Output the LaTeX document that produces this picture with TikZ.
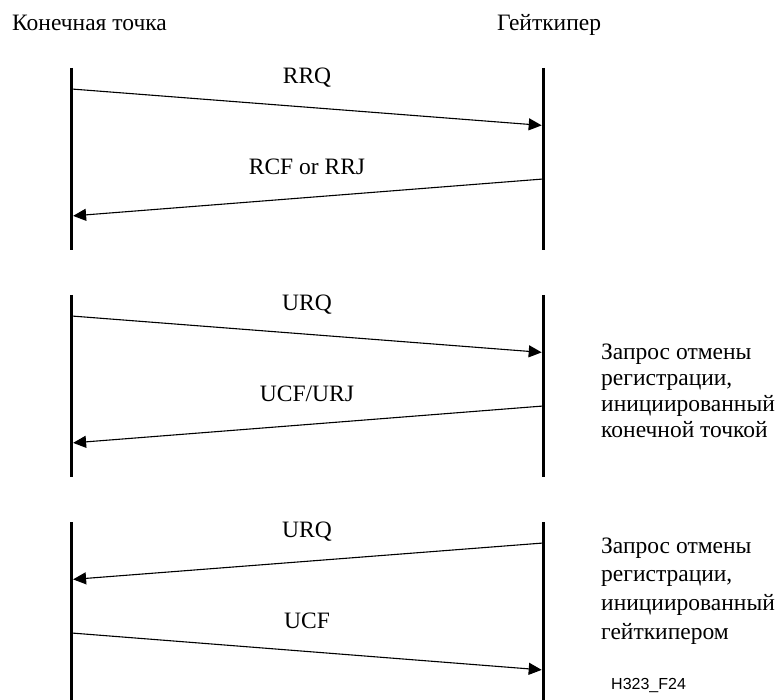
\documentclass[tikz,border=0pt]{standalone}
\usepackage{fontspec}
\setmainfont{Liberation Serif}
\newfontfamily\figsans{Liberation Sans}
\usetikzlibrary{arrows.meta}
\begin{document}
\begin{tikzpicture}[x=1pt,y=-1pt,
  lifeline/.style={line width=3.3pt},
  msg/.style={line width=1.1pt,-{Triangle[length=13pt,width=12pt]},shorten >=1.6pt},
  txt/.style={inner sep=0pt,font=\fontsize{23.5}{26}\selectfont},
  msglabel/.style={txt,anchor=base},
  note/.style={txt,anchor=base west},
  figid/.style={inner sep=0pt,anchor=base west,font=\figsans\fontsize{16}{18}\selectfont}]
\useasboundingbox (0,0) rectangle (779,700);

% column headings
\node[note] (hEP) at (12,31) {Конечная точка};
\node[note] (hGK) at (497,31) {Гейткипер};

% three exchanges, each with its own pair of lifelines
\foreach \t/\n/\e in {68/1/250, 295/2/477, 522/3/700}{
  \coordinate (E\n top) at (71.5,\t);
  \coordinate (E\n bot) at (71.5,\e);
  \coordinate (G\n top) at (543.3,\t);
  \coordinate (G\n bot) at (543.3,\e);
  \coordinate (E\n a) at (71.5,\t+21);
  \coordinate (G\n a) at (543.3,\t+57.5);
  \coordinate (G\n b) at (543.3,\t+111);
  \coordinate (E\n b) at (71.5,\t+148);
  \coordinate (G\n c) at (543.3,\t+21);
  \coordinate (E\n c) at (71.5,\t+57.5);
  \coordinate (E\n d) at (71.5,\t+111);
  \coordinate (G\n d) at (543.3,\t+148);
  \node[msglabel] (lab\n a) at (307,\t+15.7) {};
  \node[msglabel] (lab\n b) at (307,\t+106.7) {};
  \draw[lifeline] (E\n top) -- (E\n bot);
  \draw[lifeline] (G\n top) -- (G\n bot);
}

% registration
\draw[msg] (E1a) -- (G1a);
\draw[msg] (G1b) -- (E1b);
\node[msglabel] (m1) at (lab1a) {RRQ};
\node[msglabel] (m2) at (lab1b) {RCF or RRJ};

% unregistration requested by the endpoint
\draw[msg] (E2a) -- (G2a);
\draw[msg] (G2b) -- (E2b);
\node[msglabel] (m3) at (lab2a) {URQ};
\node[msglabel] (m4) at (lab2b) {UCF/URJ};

% unregistration requested by the gatekeeper
\draw[msg] (G3c) -- (E3c);
\draw[msg] (E3d) -- (G3d);
\node[msglabel] (m5) at (lab3a) {URQ};
\node[msglabel] (m6) at (lab3b) {UCF};

% side notes
\foreach \s [count=\i from 0] in {Запрос отмены, {регистрации,}, инициированный, конечной точкой}
  \node[note] (noteA\i) at (601,360+\i*25.7) {\s};
\foreach \s [count=\i from 0] in {Запрос отмены, {регистрации,}, инициированный, гейткипером}
  \node[note] (noteB\i) at (601,553+\i*28.7) {\s};

\node[figid] (fid) at (611,689) {H323\_F24};
\end{tikzpicture}
\end{document}
